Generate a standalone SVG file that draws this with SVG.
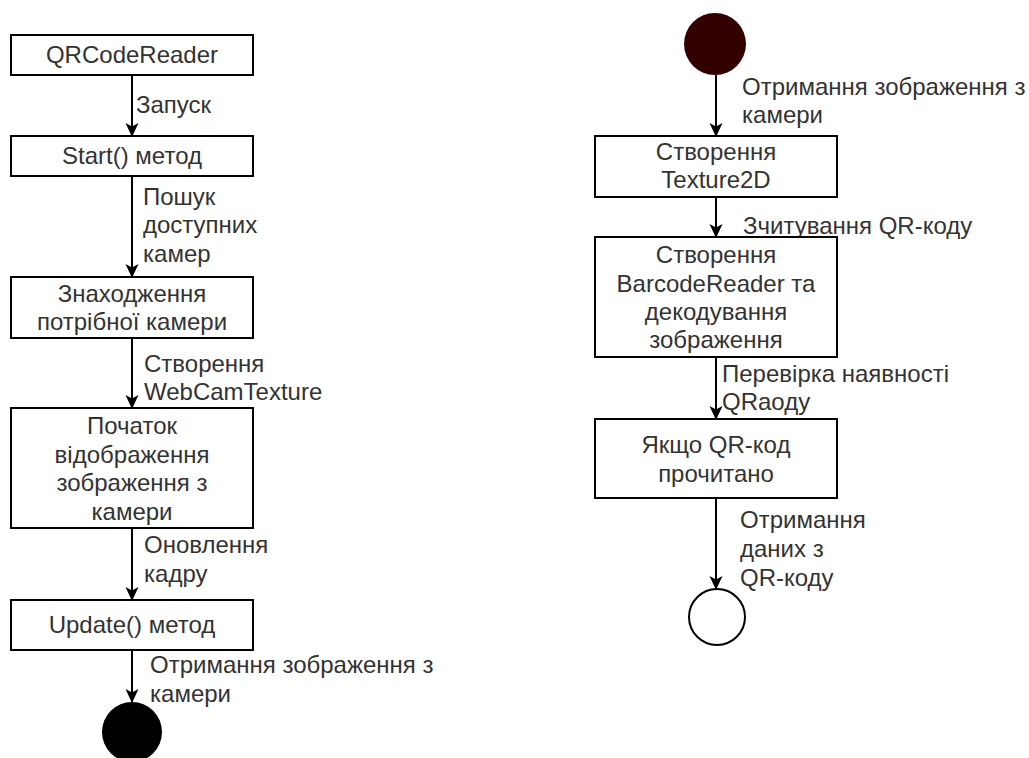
<svg xmlns="http://www.w3.org/2000/svg" width="1029" height="758" viewBox="0 0 1029 758">
<defs>
<style>
.box{fill:#fff;stroke:#000;stroke-width:2}
.t{font-family:"Liberation Sans",Arial,sans-serif;font-size:24px;fill:#333}
.c{text-anchor:middle}
.edge{stroke:#000;stroke-width:2;fill:none;marker-end:url(#arr)}
</style>
<marker id="arr" viewBox="0 0 14 14" refX="13" refY="7" markerWidth="14" markerHeight="14" orient="auto" markerUnits="userSpaceOnUse">
<path d="M0,0.5 L14,7 L0,13.5 L3.5,7 Z" fill="#000"/>
</marker>
</defs>
<rect width="1029" height="758" fill="#fff"/>

<g id="connectors">
<line class="edge" x1="132" y1="75" x2="132" y2="136"/>
<line class="edge" x1="132" y1="176" x2="132" y2="277"/>
<line class="edge" x1="132" y1="338" x2="132" y2="408"/>
<line class="edge" x1="132" y1="528" x2="132" y2="600"/>
<line class="edge" x1="132" y1="650" x2="132" y2="702"/>
<line class="edge" x1="716" y1="75" x2="716" y2="136"/>
<line class="edge" x1="716" y1="197" x2="716" y2="237"/>
<line class="edge" x1="716" y1="357" x2="716" y2="419"/>
<line class="edge" x1="716" y1="498" x2="716" y2="589"/>
<g class="t">
<text x="136" y="113">Запуск</text>
<text x="143" y="205">Пошук</text>
<text x="143" y="233">доступних</text>
<text x="143" y="262">камер</text>
<text x="144" y="372">Створення</text>
<text x="144" y="400">WebCamTexture</text>
<text x="144" y="553">Оновлення</text>
<text x="144" y="582">кадру</text>
<text x="150" y="673">Отримання зображення з</text>
<text x="150" y="702">камери</text>
<text x="742" y="95">Отримання зображення з</text>
<text x="742" y="123">камери</text>
<text x="743" y="234">Зчитування QR-коду</text>
<text x="722" y="382">Перевірка наявності</text>
<text x="722" y="410">QRaоду</text>
<text x="740" y="528">Отримання</text>
<text x="740" y="557">даних з</text>
<text x="740" y="586">QR-коду</text>
</g>
</g>

<g id="n1"><rect class="box" x="11" y="35" width="242" height="40"/><text class="t c" x="132" y="63">QRCodeReader</text></g>
<g id="n2"><rect class="box" x="11" y="136" width="242" height="40"/><text class="t c" x="132" y="164">Start() метод</text></g>
<g id="n3"><rect class="box" x="11" y="277" width="242" height="61"/><text class="t c" x="132" y="302">Знаходження</text><text class="t c" x="132" y="330">потрібної камери</text></g>
<g id="n4"><rect class="box" x="11" y="408" width="242" height="120"/><text class="t c" x="132" y="434">Початок</text><text class="t c" x="132" y="463">відображення</text><text class="t c" x="132" y="491">зображення з</text><text class="t c" x="132" y="520">камери</text></g>
<g id="n5"><rect class="box" x="11" y="600" width="242" height="50"/><text class="t c" x="132" y="633">Update() метод</text></g>
<g id="n6"><circle cx="132" cy="732" r="30" fill="#000"/></g>

<g id="r0"><circle cx="715" cy="44" r="31" fill="#330000"/></g>
<g id="r1"><rect class="box" x="595" y="136" width="242" height="61"/><text class="t c" x="716" y="160">Створення</text><text class="t c" x="716" y="188">Texture2D</text></g>
<g id="r2"><rect class="box" x="595" y="237" width="242" height="120"/><text class="t c" x="716" y="263">Створення</text><text class="t c" x="716" y="292">BarcodeReader та</text><text class="t c" x="716" y="320">декодування</text><text class="t c" x="716" y="348">зображення</text></g>
<g id="r3"><rect class="box" x="595" y="419" width="242" height="79"/><text class="t c" x="716" y="453">Якщо QR-код</text><text class="t c" x="716" y="482">прочитано</text></g>
<g id="r4"><circle cx="717" cy="617" r="28" fill="#fff" stroke="#000" stroke-width="2"/></g>
</svg>
